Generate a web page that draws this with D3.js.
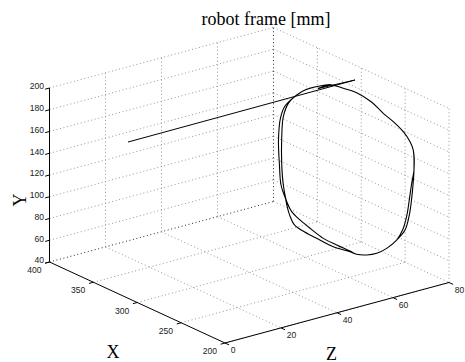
<!DOCTYPE html>
<html><head><meta charset="utf-8">
<script src="https://cdn.jsdelivr.net/npm/d3@7"></script>
<style>html,body{margin:0;padding:0;background:#fff;}svg{display:block;}</style>
</head><body>
<svg id="c" width="465" height="362"></svg>
<script>
// ---- data ----
const title = "robot frame [mm]";
const xTicks = [200, 250, 300, 350, 400];
const yTicks = [40, 60, 80, 100, 120, 140, 160, 180, 200];
const zTicks = [0, 20, 40, 60, 80];
// approach segment: start point, tip, rejoin point
const approachX = [326.5, 291.2, 317.4];
const approachY = [174.2, 195.7, 181.6];
const approachZ = [5, 75, 70];
// three passes of the loop (plane Z = 70)
const loopZ = 70;
const passAX = [341.6,330.3,315.1,301.8,288.6,273.3,256.4,243.0,231.6,220.2,212.5,208.8,208.0,208.8,210.6,213.3,218.2,227.7,239.1,250.5,261.9,273.3,280.9,296.1,311.3,326.5,337.9,347.4,353.0,356.9,358.7,358.7,356.9,351.2];
const passAY = [166.6,176.1,184.8,190.7,192.6,194.2,191.9,186.5,183.1,178.1,171.8,165.5,147.4,136.4,120.4,104.1,88.4,75.7,63.8,55.0,49.2,45.6,45.8,45.7,46.1,49.7,53.1,57.2,64.3,78.2,95.9,121.9,141.0,155.4];
const passBX = [345.9,334.5,315.1,301.8,288.6,273.3,256.4,243.0,231.6,220.2,212.5,208.8,208.0,210.3,213.1,216.0,220.5,227.7,239.1,250.5,261.9,273.3,280.9,296.1,311.3,326.5,337.9,347.4,353.0,359.5,361.3,362.4,360.1,355.0];
const passBY = [162.3,173.0,184.8,190.7,192.6,194.2,191.9,186.5,183.1,178.1,171.8,165.5,147.4,135.8,119.5,103.1,88.5,75.7,63.8,55.0,49.2,45.6,45.8,45.7,46.1,49.7,53.1,57.2,64.3,77.2,94.9,117.5,138.6,151.5];
const passCX = [341.6,330.3,315.1,301.8,288.6,273.3,256.4,243.0,231.6,220.2,212.5,208.8,208.0,208.8,210.6,213.3,218.2,227.7,239.1,250.5,261.9,273.3,280.9,299.9,318.9,335.5,344.7,349.6,352.9,356.9,358.7,358.7,356.9,351.2];
const passCY = [166.6,176.1,184.8,190.7,192.6,194.2,191.9,186.5,183.1,178.1,171.8,165.5,147.4,136.4,120.4,104.1,88.4,75.7,63.8,55.0,49.2,45.6,45.1,42.6,43.3,44.3,46.6,53.0,61.2,78.2,95.9,121.9,141.0,155.4];

// ---- projection via d3 scales ----
const svg = d3.select("#c");
const origin = [49.5, 262];
const vX = [175.5, 81], vZ = [224, -60.5], vY = [0, -174];
const xs = d3.scaleLinear().domain([400, 200]).range([0, 1]);
const ys = d3.scaleLinear().domain([40, 200]).range([0, 1]);
const zs = d3.scaleLinear().domain([0, 80]).range([0, 1]);
function P(x, y, z) {
  const a = xs(x), b = ys(y), c = zs(z);
  return [origin[0] + a*vX[0] + b*vY[0] + c*vZ[0], origin[1] + a*vX[1] + b*vY[1] + c*vZ[1]];
}
const g = svg.append("g");
function seg(p, q, cls) {
  const l = g.append("line").attr("x1", p[0]).attr("y1", p[1]).attr("x2", q[0]).attr("y2", q[1]);
  if (cls === "grid") l.attr("stroke", "#8a8a8a").attr("stroke-width", 0.9).attr("stroke-dasharray", "1,2.6");
  else if (cls === "edge") l.attr("stroke", "#111").attr("stroke-width", 0.9).attr("stroke-dasharray", "1,2.6");
  else l.attr("stroke", "#000").attr("stroke-width", 1);
  return l;
}
const X0 = 400, X1 = 200, Y0 = 40, Y1 = 200, Z0 = 0, Z1 = 80;
// left wall X=400
yTicks.forEach(y => seg(P(X0, y, Z0), P(X0, y, Z1), y === Y0 ? "edge" : "grid"));
zTicks.filter(z => z > Z0).forEach(z => seg(P(X0, Y0, z), P(X0, Y1, z), z === Z1 ? "edge" : "grid"));
// back wall Z=80
yTicks.filter(y => y > Y0).forEach(y => seg(P(X0, y, Z1), P(X1, y, Z1), "grid"));
xTicks.filter(x => x < X0).forEach(x => seg(P(x, Y0, Z1), P(x, Y1, Z1), "grid"));
// floor Y=40
xTicks.filter(x => x < X0).forEach(x => seg(P(x, Y0, Z0), P(x, Y0, Z1), "grid"));
zTicks.filter(z => z > Z0).forEach(z => seg(P(X0, Y0, z), P(X1, Y0, z), "grid"));

// axes
seg(P(X0, Y0, Z0), P(X0, Y1, Z0), "axis");
seg(P(X0, Y0, Z0), P(X1, Y0, Z0), "axis");
seg(P(X1, Y0, Z0), P(X1, Y0, Z1), "axis");

// ticks
const tl = 4.5;
const outZ = [-vZ[0], -vZ[1]], nz = Math.hypot(outZ[0], outZ[1]);
const outX = [vX[0], vX[1]], nx = Math.hypot(outX[0], outX[1]);
const tf = "Liberation Sans, Arial, Helvetica, sans-serif";
yTicks.forEach(y => {
  const p = P(X0, y, Z0);
  seg(p, [p[0] + outZ[0]/nz*tl, p[1] + outZ[1]/nz*tl], "axis");
  g.append("text").attr("x", p[0] - 5.5).attr("y", p[1] - 1).attr("text-anchor", "end")
    .attr("dominant-baseline", "middle").attr("font-family", tf).attr("font-size", 8.6).attr("fill", "#222").text(y);
});
xTicks.forEach(x => {
  const p = P(x, Y0, Z0);
  seg(p, [p[0] + outZ[0]/nz*tl, p[1] + outZ[1]/nz*tl], "axis");
  g.append("text").attr("x", p[0] - 8).attr("y", p[1] + 8.8).attr("text-anchor", "end")
    .attr("dominant-baseline", "middle").attr("font-family", tf).attr("font-size", 8.6).attr("fill", "#222").text(x);
});
zTicks.forEach(z => {
  const p = P(X1, Y0, z);
  seg(p, [p[0] + outX[0]/nx*tl, p[1] + outX[1]/nx*tl], "axis");
  g.append("text").attr("x", p[0] + 5.7).attr("y", p[1] + 8).attr("text-anchor", "start")
    .attr("dominant-baseline", "middle").attr("font-family", tf).attr("font-size", 8.6).attr("fill", "#222").text(z);
});

// labels
const sf = "Liberation Serif, Times New Roman, serif";
svg.append("text").attr("x", 266).attr("y", 24.5).attr("text-anchor", "middle")
  .attr("font-family", sf).attr("font-size", 18).text(title);
svg.append("text").attr("x", 113).attr("y", 358).attr("text-anchor", "middle")
  .attr("font-family", sf).attr("font-size", 18).text("X");
svg.append("text").attr("x", 331.5).attr("y", 359.5).attr("text-anchor", "middle")
  .attr("font-family", sf).attr("font-size", 18).text("Z");
svg.append("text").attr("transform", "translate(25.5,200) rotate(-90)").attr("text-anchor", "middle")
  .attr("font-family", sf).attr("font-size", 18).text("Y");

// data
const approach = approachX.map((x, i) => P(x, approachY[i], approachZ[i]));
svg.append("path").attr("d", d3.line()(approach)).attr("fill", "none").attr("stroke", "#000").attr("stroke-width", 1);
const start = 3;
function rot(arrX, arrY) {
  const out = [];
  for (let k = 0; k < arrX.length; k++) {
    const i = (start + k) % arrX.length;
    out.push(P(arrX[i], arrY[i], loopZ));
  }
  return out;
}
const loopPts = [approach[2]].concat(rot(passAX, passAY), rot(passBX, passBY), rot(passCX, passCY), [P(passAX[start], passAY[start], loopZ)]);
svg.append("path").attr("d", d3.line().curve(d3.curveCatmullRom.alpha(0.5))(loopPts))
  .attr("fill", "none").attr("stroke", "#000").attr("stroke-width", 1.1);
</script>
</body></html>
